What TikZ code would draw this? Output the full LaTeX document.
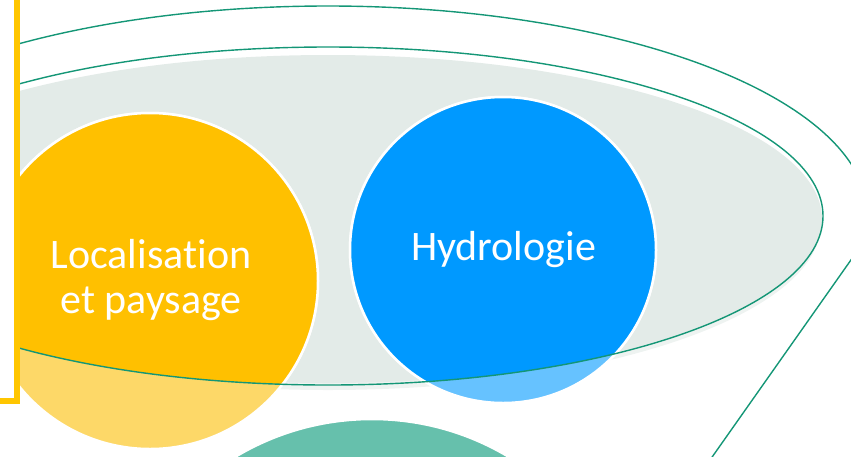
\documentclass[tikz,border=0pt]{standalone}
\usepackage{fontspec}
\setmainfont{Carlito}[Ligatures=NoCommon]
\definecolor{rim}{RGB}{20,150,118}
\definecolor{ellfill}{RGB}{227,235,232}
\definecolor{ellshadow}{RGB}{238,243,241}
\definecolor{gold}{RGB}{255,192,0}
\definecolor{goldsoft}{RGB}{253,216,104}
\definecolor{sky}{RGB}{0,153,255}
\definecolor{skysoft}{RGB}{102,194,255}
\definecolor{tealsoft}{RGB}{102,192,172}
\definecolor{bracketgold}{RGB}{255,198,0}
\begin{document}
\begin{tikzpicture}[x=1pt,y=-1pt,
  rimline/.style={draw=rim, line width=1.4pt},
  disc/.style={draw=white, line width=2.5pt},
  caption/.style={text=white, font=\fontsize{42}{45}\selectfont, align=center, inner sep=0pt},
  bracketline/.style={draw=bracketgold, line width=6pt, line join=miter}]
\useasboundingbox (0,0) rectangle (851,456);

% funnel geometry
\coordinate (rimc) at (328,216);
\coordinate (rimleft) at (-212,216);
\coordinate (funtop) at (865,240);
\coordinate (funbot) at (710,460);

% centres of the three discs
\coordinate (cgold) at (150,281);
\coordinate (csky) at (503,250);
\coordinate (cteal) at (372,685);

\begin{scope}
  % everything stays right of the bracket
  \clip (20,0) rectangle (851,456);

  % outer rim of the funnel (back half only) and its side
  \draw[rimline] (rimleft) arc [start angle=180, end angle=-11, x radius=540pt, y radius=210pt];
  \draw[rimline] (funtop) -- (funbot);

  % inner mouth: soft shadow and grey fill
  \fill[ellshadow] (328,223) ellipse [x radius=493pt, y radius=167pt];
  \fill[ellfill] (328,219) ellipse [x radius=494pt, y radius=164pt];

  % discs, faded outside the mouth
  \path[disc, fill=goldsoft] (cgold) circle [radius=168pt];
  \path[disc, fill=skysoft] (csky) circle [radius=153pt];
  \path[disc, fill=tealsoft] (cteal) circle [radius=266pt];

  % full colour inside the mouth
  \begin{scope}
    \clip (rimc) ellipse [x radius=495pt, y radius=169pt];
    \path[disc, fill=gold] (cgold) circle [radius=168pt];
    \path[disc, fill=sky] (csky) circle [radius=153pt];
  \end{scope}
  \draw[rimline] (rimc) ellipse [x radius=495pt, y radius=169pt];
\end{scope}

% labels
\node[caption] (loc) at (151,280) {Localisation\\et paysage};
\node[caption] (hyd) at (503.5,250) {Hydrologie};

% bracket on the left
\coordinate (brtop) at (17,-6);
\coordinate (brcorner) at (17,400.5);
\coordinate (brend) at (-6,400.5);
\draw[bracketline] (brtop) -- (brcorner) -- (brend);
\end{tikzpicture}
\end{document}
